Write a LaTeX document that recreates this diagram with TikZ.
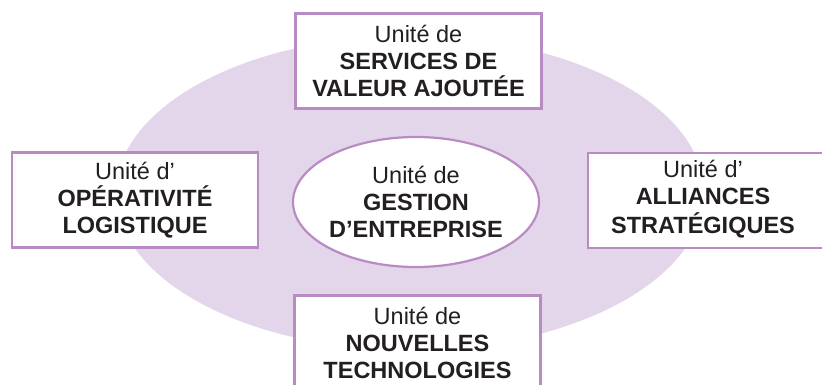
\documentclass[tikz,border=0pt]{standalone}
\usepackage{fontspec}
\setmainfont{Liberation Sans}
\usetikzlibrary{shapes.geometric}
\definecolor{lilac}{HTML}{E3D6EA}
\definecolor{mauve}{HTML}{B88BC2}
\definecolor{ink}{HTML}{231F20}
\tikzset{
  unitbox/.style={draw=mauve, line width=2.2pt, fill=white,
    minimum width=246pt, minimum height=95pt, inner sep=0pt,
    align=center, text=ink, font=\fontsize{23.5}{27}\selectfont},
  hub/.style={ellipse, draw=mauve, line width=2.2pt, fill=white,
    minimum width=246pt, minimum height=130pt, inner sep=0pt,
    align=center, text=ink, font=\fontsize{23.5}{27}\selectfont}
}
\begin{document}
\begin{tikzpicture}[x=1pt,y=-1pt]
  \useasboundingbox (0,0) rectangle (822,385);
  \begin{scope}
    \clip (0,0) rectangle (822,385);
    % background field
    \fill[lilac] (410,193) ellipse [x radius=294, y radius=157];
    \node[hub] (core) at (416,202) {Unité de\\\textbf{GESTION}\\\textbf{D’ENTREPRISE}};
    \node[unitbox] (top) at (418.5,61) {Unité de\\\textbf{SERVICES DE}\\\textbf{VALEUR AJOUTÉE}};
    \node[unitbox] (left) at (135,200) {Unité d’\\\textbf{OPÉRATIVITÉ}\\\textbf{LOGISTIQUE}};
    \node[unitbox] (right) at (711,200.5) {\hspace*{-16pt}\begin{tabular}{@{}c@{}}Unité d’\\\textbf{ALLIANCES}\\\textbf{STRATÉGIQUES}\end{tabular}};
    \node[unitbox] (bottom) at (417.5,343) {Unité de\\\textbf{NOUVELLES}\\\textbf{TECHNOLOGIES}};
  \end{scope}
\end{tikzpicture}
\end{document}
